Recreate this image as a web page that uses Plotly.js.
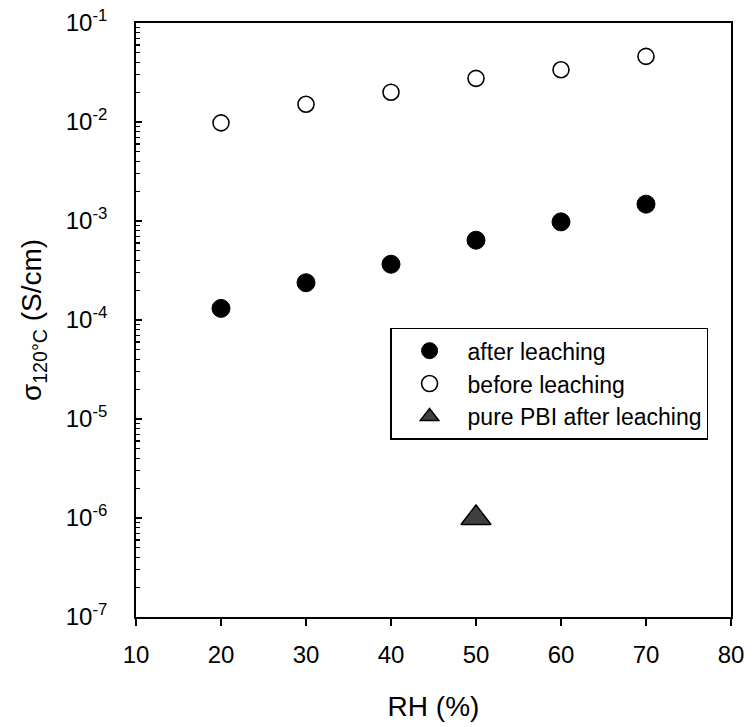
<!DOCTYPE html>
<html>
<head>
<meta charset="utf-8">
<script src="https://cdn.plot.ly/plotly-3.0.1.min.js"></script>
<style>html,body{margin:0;padding:0;background:#fff;}#chart{width:754px;height:727px;}</style>
</head>
<body>
<div id="chart"></div>
<script>
// Data
const rh = [20, 30, 40, 50, 60, 70];
const afterLeaching = [1.31e-4, 2.38e-4, 3.66e-4, 6.4e-4, 9.8e-4, 1.48e-3];
const beforeLeaching = [9.8e-3, 1.51e-2, 2.0e-2, 2.76e-2, 3.37e-2, 4.6e-2];
const pbiRH = [50];
const pbiAfterLeaching = [1.0e-6];

const yTickVals = [1e-7, 1e-6, 1e-5, 1e-4, 1e-3, 1e-2, 1e-1];
const yTickText = ['10<sup>-7</sup>', '10<sup>-6</sup>', '10<sup>-5</sup>', '10<sup>-4</sup>', '10<sup>-3</sup>', '10<sup>-2</sup>', '10<sup>-1</sup>'];
const xTickVals = [10, 20, 30, 40, 50, 60, 70, 80];

const FONT = '"Liberation Sans", Arial, sans-serif';

const traces = [
  {
    x: rh, y: afterLeaching, type: 'scatter', mode: 'markers', name: 'after leaching',
    legendgroup: 'a',
    marker: {symbol: 'circle', size: 18, color: '#000000', line: {color: '#000000', width: 1}}
  },
  {
    x: rh, y: beforeLeaching, type: 'scatter', mode: 'markers', name: 'before leaching',
    legendgroup: 'b',
    marker: {symbol: 'circle', size: 16, color: '#ffffff', line: {color: '#000000', width: 1.6}}
  },
  {
    x: pbiRH, y: pbiAfterLeaching, type: 'scatter', mode: 'markers', name: 'pure PBI after leaching',
    legendgroup: 'c',
    marker: {symbol: 'triangle-up', size: 26, color: '#404040', line: {color: '#000000', width: 1.5}}
  }
];

const layout = {
  width: 754, height: 727,
  margin: {l: 136, r: 23, t: 23, b: 110},
  paper_bgcolor: '#ffffff', plot_bgcolor: '#ffffff',
  font: {family: FONT, color: '#000000', size: 24},
  showlegend: true,
  legend: {
    x: 0.427, y: 0.487, xanchor: 'left', yanchor: 'top',
    bgcolor: '#ffffff', bordercolor: '#000000', borderwidth: 1.5,
    font: {family: FONT, size: 23, color: '#000000'},
    traceorder: 'grouped', tracegroupgap: 0,
    itemsizing: 'trace', itemwidth: 66
  },
  xaxis: {
    type: 'linear', range: [10, 80],
    tickmode: 'array', tickvals: xTickVals,
    ticks: 'outside', ticklen: 7, tickwidth: 1.5, tickcolor: '#000000',
    showline: true, linecolor: '#000000', linewidth: 1.8, mirror: true,
    showgrid: false, zeroline: false,
    tickfont: {family: FONT, size: 24, color: '#000000'},
    ticklabelstandoff: 8,
    title: {text: 'RH (%)', font: {family: FONT, size: 28, color: '#000000'}, standoff: 30}
  },
  yaxis: {
    type: 'log', range: [-7, -1],
    tickmode: 'array', tickvals: yTickVals, ticktext: yTickText,
    ticks: 'inside', ticklen: 6, tickwidth: 1.5, tickcolor: '#000000',
    minor: {ticks: 'inside', ticklen: 4, tickwidth: 1.2, tickcolor: '#000000', dtick: 'D1', showgrid: false},
    showline: true, linecolor: '#000000', linewidth: 1.8, mirror: true,
    showgrid: false, zeroline: false,
    tickfont: {family: FONT, size: 24, color: '#000000'},
    ticklabelstandoff: 22,
    title: {text: 'σ<sub>120°C</sub> (S/cm)', font: {family: FONT, size: 28, color: '#000000'}, standoff: 16}
  }
};

Plotly.newPlot('chart', traces, layout, {displayModeBar: false, staticPlot: true});
</script>
</body>
</html>
